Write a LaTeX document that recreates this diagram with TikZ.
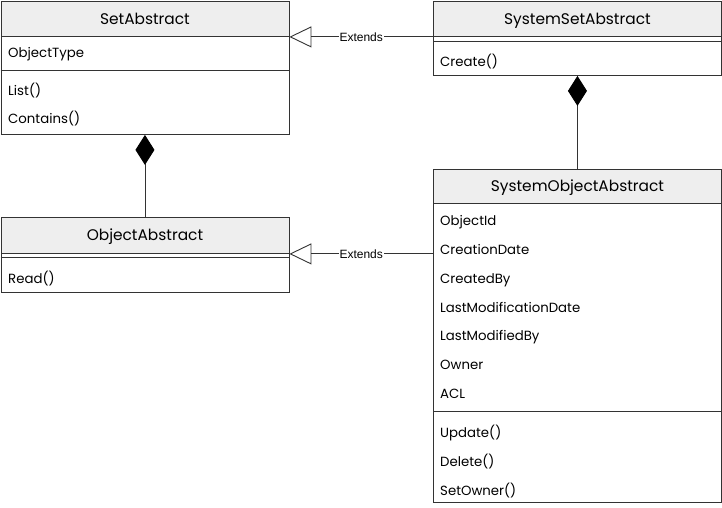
\documentclass[tikz,border=0pt]{standalone}
\usepackage{fontspec}
\setmainfont{Poppins}
\newfontfamily\labelfont{Liberation Sans}
\usetikzlibrary{arrows.meta}
\definecolor{headgray}{HTML}{EEEEEE}
\definecolor{linegray}{HTML}{333333}

\begin{document}
\begin{tikzpicture}[x=1pt, y=-1pt,
    classbox/.style={draw=linegray, line width=0.9pt, anchor=north west, minimum width=288pt, inner sep=0pt},
    classhead/.style={classbox, fill=headgray, text height=11pt, text depth=0pt, font=\fontsize{15.4}{18}\selectfont},
    member/.style={anchor=west, inner sep=0pt, text height=9.5pt, text depth=0pt, font=\fontsize{13.3}{15}\selectfont},
    extends/.style={draw=linegray, line width=0.9pt, -{Triangle[open, length=22pt, width=21pt, fill=white]}},
    composes/.style={draw=linegray, line width=0.9pt, {Diamond[length=30pt, width=19pt, color=black]}-},
    tag/.style={fill=white, inner sep=1pt, font=\labelfont\fontsize{12}{14}\selectfont}]
    \useasboundingbox (0,0) rectangle (722,507);

    % SetAbstract
    \node[classbox, minimum height=133pt] (SetAbs) at (0.5,1) {};
    \node[classhead, minimum height=35pt] (SetAbsHead) at (0.5,1) {SetAbstract};
    \draw[linegray, line width=0.9pt] (0.5,70) -- (288.5,70);
    \node[member] (SetAbsType) at (8,53) {ObjectType};
    \node[member] (SetAbsList) at (8,91) {List()};
    \node[member] (SetAbsContains) at (8,119) {Contains()};

    % SystemSetAbstract
    \node[classbox, minimum height=74pt] (SysSetAbs) at (433,1) {};
    \node[classhead, minimum height=35pt] (SysSetAbsHead) at (433,1) {SystemSetAbstract};
    \draw[linegray, line width=0.9pt] (433,41) -- (721,41);
    \node[member] (SysSetAbsCreate) at (440,62) {Create()};

    % ObjectAbstract
    \node[classbox, minimum height=75pt] (ObjAbs) at (0.5,217) {};
    \node[classhead, minimum height=36pt] (ObjAbsHead) at (0.5,217) {ObjectAbstract};
    \draw[linegray, line width=0.9pt] (0.5,257) -- (288.5,257);
    \node[member] (ObjAbsRead) at (8,279) {Read()};

    % SystemObjectAbstract
    \node[classbox, minimum height=333pt] (SysObjAbs) at (433,169) {};
    \node[classhead, minimum height=34pt] (SysObjAbsHead) at (433,169) {SystemObjectAbstract};
    \foreach \txt [count=\i] in {ObjectId, CreationDate, CreatedBy, LastModificationDate, LastModifiedBy, Owner, ACL}
        \node[member] (SysObjAttr\i) at (440,192.2+28.8*\i) {\txt};
    \draw[linegray, line width=0.9pt] (433,411) -- (721,411);
    \foreach \txt [count=\i] in {Update(), Delete(), SetOwner()}
        \node[member] (SysObjOp\i) at (440,404.2+28.8*\i) {\txt};

    % Relations
    \draw[extends] (SysSetAbs.west |- SetAbsHead.south) -- (SetAbsHead.south east) node[tag, midway] {Extends};
    \draw[extends] (SysObjAbs.west |- ObjAbsHead.south) -- (ObjAbsHead.south east) node[tag, midway] {Extends};
    \draw[composes] (SetAbs.south) -- (ObjAbsHead.north);
    \draw[composes] (SysSetAbs.south) -- (SysObjAbsHead.north);

\end{tikzpicture}
\end{document}
